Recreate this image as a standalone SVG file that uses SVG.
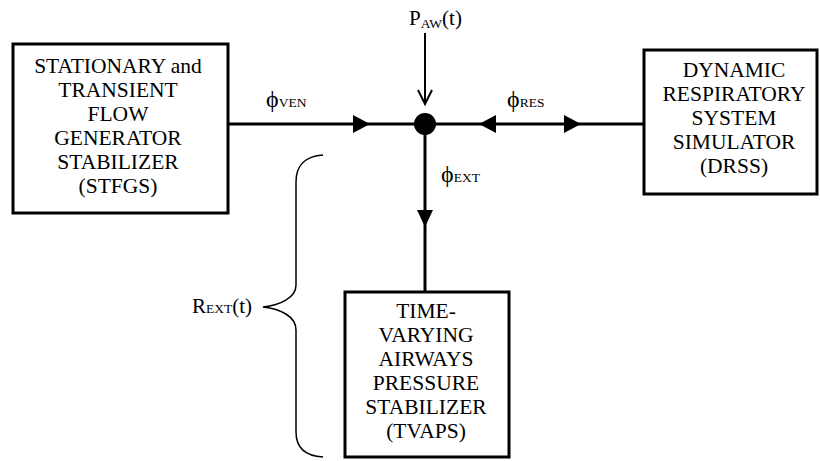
<svg xmlns="http://www.w3.org/2000/svg" width="820" height="461" viewBox="0 0 820 461">
<style>
text{font-family:'Liberation Serif','DejaVu Serif',serif;fill:#000}
.box{fill:#fff;stroke:#000;stroke-width:3}
.t{font-size:21.5px;text-anchor:middle}
.l{font-size:21px}
.s{font-size:13.5px}
.ln{stroke:#000;stroke-width:3;fill:none}
.ah{fill:#000;stroke:none}
</style>
<rect width="820" height="461" fill="#fff"/>
<g id="connectors">
<line class="ln" x1="228" y1="124" x2="644" y2="124"/>
<line class="ln" x1="425" y1="124" x2="425" y2="292"/>
<line stroke="#000" stroke-width="2" x1="425" y1="33" x2="425" y2="104"/>
<polyline stroke="#000" stroke-width="2" fill="none" points="418,90 425,104 432,90"/>
<polygon class="ah" points="353,115 370,124 353,133"/>
<polygon class="ah" points="496,115 479,124 496,133"/>
<polygon class="ah" points="564,115 581,124 564,133"/>
<polygon class="ah" points="417,210 433,210 425,227"/>
<circle cx="425" cy="124" r="11" fill="#000"/>
<path d="M323,155 C305,156 296,166 296,182 L296,285 C296,298 280,305 263,307 C280,309 296,316 296,330 L296,432 C296,448 305,456 323,457" stroke="#000" stroke-width="1.5" fill="none"/>
</g>
<g id="stfgs">
<rect class="box" x="13" y="44" width="215" height="169"/>
<text class="t" x="118" y="73">STATIONARY and</text>
<text class="t" x="118" y="97">TRANSIENT</text>
<text class="t" x="118" y="121">FLOW</text>
<text class="t" x="118" y="145">GENERATOR</text>
<text class="t" x="118" y="169">STABILIZER</text>
<text class="t" x="118" y="193">(STFGS)</text>
</g>
<g id="drss">
<rect class="box" x="644" y="50" width="173" height="144"/>
<text class="t" x="734" y="77">DYNAMIC</text>
<text class="t" x="734" y="101">RESPIRATORY</text>
<text class="t" x="734" y="125">SYSTEM</text>
<text class="t" x="734" y="149">SIMULATOR</text>
<text class="t" x="734" y="173">(DRSS)</text>
</g>
<g id="tvaps">
<rect class="box" x="345" y="292" width="164" height="165"/>
<text class="t" x="426" y="318">TIME-</text>
<text class="t" x="426" y="342">VARYING</text>
<text class="t" x="426" y="366">AIRWAYS</text>
<text class="t" x="426" y="390">PRESSURE</text>
<text class="t" x="426" y="414">STABILIZER</text>
<text class="t" x="426" y="438">(TVAPS)</text>
</g>
<g id="labels">
<text class="l" x="409" y="25">P<tspan class="s" dy="3">AW</tspan><tspan dy="-3">(t)</tspan></text>
<text class="l" x="266" y="107"><tspan font-size="24">ϕ</tspan><tspan class="s">VEN</tspan></text>
<text class="l" x="507" y="107"><tspan font-size="24">ϕ</tspan><tspan class="s">RES</tspan></text>
<text class="l" x="441" y="182"><tspan font-size="24">ϕ</tspan><tspan class="s">EXT</tspan></text>
<text class="l" x="192" y="313">R<tspan class="s">EXT</tspan>(t)</text>
</g>
</svg>
